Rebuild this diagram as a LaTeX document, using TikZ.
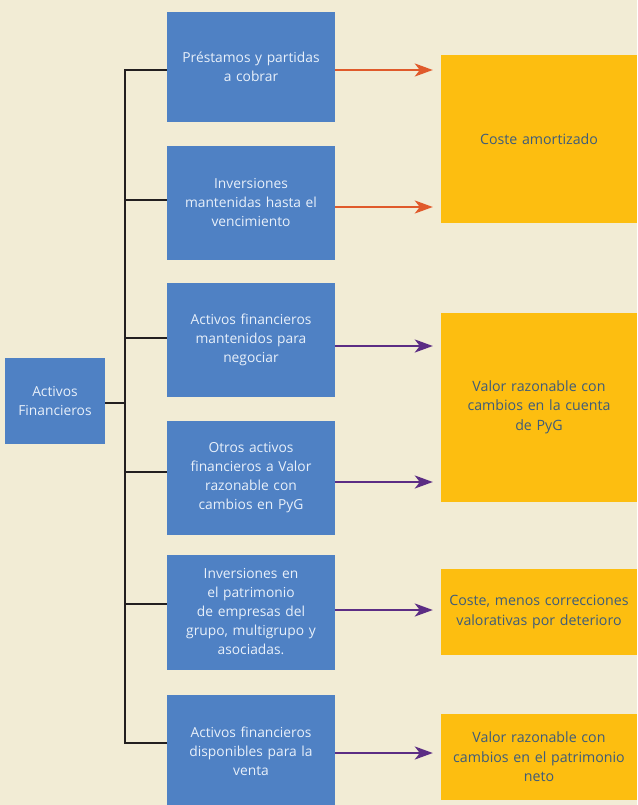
\documentclass[tikz,border=0pt]{standalone}
\usepackage{fontspec}
\setmainfont{Open Sans}
\usetikzlibrary{arrows.meta}

\definecolor{fondo}{RGB}{242,236,213}
\definecolor{azul}{RGB}{79,129,196}
\definecolor{ambar}{RGB}{253,190,16}
\definecolor{tinta}{RGB}{62,92,122}
\definecolor{claro}{RGB}{232,240,250}
\definecolor{rojizo}{RGB}{224,90,43}
\definecolor{morado}{RGB}{92,45,132}
\definecolor{linea}{RGB}{35,31,32}

\tikzset{
  tipo/.style={fill=azul,text=claro,align=center,font=\fontsize{13.8}{19}\selectfont,
    minimum width=168pt,text width=160pt,inner sep=0pt},
  valor/.style={fill=ambar,text=tinta,align=center,font=\fontsize{14.2}{19.5}\selectfont,
    minimum width=196pt,text width=192pt,inner sep=0pt},
  rama/.style={draw=linea,line width=2.8pt},
  flecha/.style={line width=2.4pt,shorten >=8pt,
    -{Stealth[length=18pt,width=13pt,inset=5pt]}}
}

\begin{document}
\begin{tikzpicture}[x=1pt,y=-1pt]
		% background
		\fill[fondo] (0,0) rectangle (637,805);
		\useasboundingbox (0,0) rectangle (637,805);

		% root
		\node[tipo,minimum width=100pt,text width=96pt,minimum height=86pt] (fin) at (55,401) {Activos\\Financieros};

		% kinds of assets
		\node[tipo,minimum height=110pt] (b1) at (251,67) {Préstamos y partidas\\a cobrar};
		\node[tipo,minimum height=114pt] (b2) at (251,203) {Inversiones\\mantenidas hasta el\\vencimiento};
		\node[tipo,minimum height=114pt] (b3) at (251,340) {Activos financieros\\mantenidos para\\negociar};
		\node[tipo,minimum height=114pt] (b4) at (251,478) {Otros activos\\financieros a Valor\\razonable con\\cambios en PyG};
		\node[tipo,minimum height=115pt] (b5) at (251,612) {Inversiones en\\el patrimonio\\de empresas del\\grupo, multigrupo y\\asociadas.};
		\node[tipo,minimum height=112pt] (b6) at (251,751) {Activos financieros\\disponibles para la\\venta};

		% valuation
		\node[valor,minimum height=168pt] (o1) at (539,139) {Coste amortizado};
		\node[valor,minimum height=189pt] (o2) at (539,407) {Valor razonable con\\cambios en la cuenta\\de PyG};
		\node[valor,minimum height=86pt] (o3) at (539,612) {Coste, menos correcciones\\valorativas por deterioro};
		\node[valor,minimum height=86pt] (o4) at (539,757) {Valor razonable con\\cambios en el patrimonio\\neto};

		% tree lines
		\coordinate (sp) at (125,403);
		\draw[rama] (fin.east |- sp) -- (sp);
		\draw[rama,line cap=rect] (sp |- 0,70) -- (sp |- 0,743);
		\foreach \b/\d in {b1/-3,b2/3,b3/2,b4/6,b5/8,b6/8}{
		  \coordinate (e) at ([yshift=\d pt]\b.west);
		  \draw[rama] (sp |- e) -- (e);
		}

		% arrows
		\draw[flecha,rojizo] ([yshift=-3pt]b1.east) -- (o1.west |- 0,70);
		\draw[flecha,rojizo] ([yshift=-4pt]b2.east) -- (o1.west |- 0,207);
		\draw[flecha,morado] ([yshift=-6pt]b3.east) -- (o2.west |- 0,346);
		\draw[flecha,morado] ([yshift=-4pt]b4.east) -- (o2.west |- 0,482);
		\draw[flecha,morado] ([yshift=2pt]b5.east) -- (o3.west |- 0,610);
		\draw[flecha,morado] ([yshift=-2pt]b6.east) -- (o4.west |- 0,753);
	\end{tikzpicture}
\end{document}
